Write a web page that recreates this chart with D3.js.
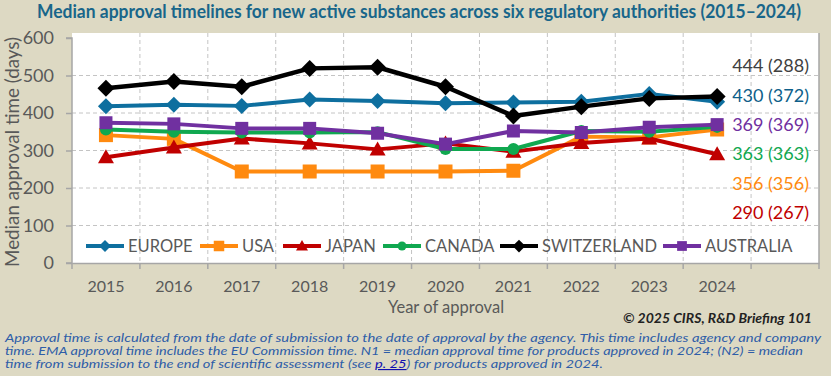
<!DOCTYPE html>
<html><head><meta charset="utf-8">
<script src="https://cdn.jsdelivr.net/npm/d3@7"></script>
<style>body{margin:0;background:#DDD9C3;} svg{display:block;font-family:Lato,"Open Sans",sans-serif}</style>
</head><body><svg id="c" width="831" height="376"></svg>
<script>
const years = ["2015","2016","2017","2018","2019","2020","2021","2022","2023","2024"];
const europe      = [418, 422, 419, 436, 432, 426, 428, 430, 451, 430];
const usa         = [341, 331, 244, 244, 244, 244, 246, 337, 335, 356];
const japan       = [282, 308, 332, 319, 303, 319, 297, 320, 332, 290];
const canada      = [356, 350, 348, 348, 349, 304, 304, 352, 350, 363];
const switzerland = [466, 484, 470, 519, 522, 470, 392, 417, 439, 444];
const australia   = [374, 371, 359, 359, 346, 317, 352, 348, 362, 369];
const seriesNames = ["EUROPE","USA","JAPAN","CANADA","SWITZERLAND","AUSTRALIA"];
const endLabels   = ["430 (372)","356 (356)","290 (267)","363 (363)","444 (288)","369 (369)"];
const yTicks = [0,100,200,300,400,500,600];

const seriesValues = [europe, usa, japan, canada, switzerland, australia];
const colors = ["#0E6F9F","#FF8A0F","#C00000","#10A850","#000000","#7030A0"];
const markers = ["diamond","square","triangle","circle","diamond","square"];
const mSize = [8, 7, 8, 6, 8.5, 6.5];
const labelColors = ["#0E5F8A","#FF8A0F","#C00000","#10A850","#404040","#7030A0"];
const labelOrder = [4,0,5,3,1,2];

const svg = d3.select("#c");
const L = 72, R = 819, T = 33, B = 263;
const x = d3.scaleBand().domain([...years, "_"]).range([L, R]);
const y = d3.scaleLinear().domain([0, 600]).range([B, 38]);
const cx = d => x(d) + x.bandwidth()/2;

// plot area
svg.append("rect").attr("x", L).attr("y", T).attr("width", R-L).attr("height", B-T).attr("fill", "#fff");
// horizontal grid
svg.append("g").selectAll("line").data(yTicks.filter(v => v>0 && v<600)).join("line")
  .attr("x1", L).attr("x2", R).attr("y1", d=>y(d)).attr("y2", d=>y(d))
  .attr("stroke", "#C4C4C4").attr("stroke-width", 1).attr("stroke-dasharray", "4,3");
// vertical grid
const bounds = x.domain().slice(1).map(d => x(d));
svg.append("g").selectAll("line").data(bounds).join("line")
  .attr("x1", d=>d).attr("x2", d=>d).attr("y1", T).attr("y2", B)
  .attr("stroke", "#C4C4C4").attr("stroke-width", 1).attr("stroke-dasharray", "4,3");
// border right
svg.append("line").attr("x1", R).attr("x2", R).attr("y1", T).attr("y2", B).attr("stroke", "#A6A6A6").attr("stroke-width", 1.5);

// y axis
const ya = svg.append("g").attr("transform", `translate(${L},0)`)
  .call(d3.axisLeft(y).tickValues(yTicks).tickSize(6).tickPadding(12));
ya.select(".domain").attr("stroke", "#A6A6A6").attr("stroke-width", 1.5).attr("d", `M-6,${y(600)}H0V${B}H-6`);
ya.selectAll(".tick line").attr("stroke", "#A6A6A6").attr("stroke-width", 1.5);
ya.selectAll("text").attr("font-size", 18).attr("fill", "#595959").attr("font-family", "Lato");
// x axis
const xa = svg.append("g").attr("transform", `translate(0,${B})`)
  .call(d3.axisBottom(x).tickSize(0).tickFormat(d => d === "_" ? "" : d).tickPadding(18));
xa.select(".domain").attr("stroke", "#A6A6A6").attr("stroke-width", 1.5);
xa.selectAll("text").attr("font-size", 16).attr("fill", "#595959").attr("font-family", "Lato");
svg.append("g").selectAll("line").data([L, ...bounds, R]).join("line")
  .attr("x1", d=>d).attr("x2", d=>d).attr("y1", B).attr("y2", B+6)
  .attr("stroke", "#A6A6A6").attr("stroke-width", 1.5);

function drawMarker(g, type, px, py, s, color) {
  if (type === "diamond") g.append("path").attr("d", `M${px},${py-s}L${px+s},${py}L${px},${py+s}L${px-s},${py}Z`).attr("fill", color);
  else if (type === "square") g.append("rect").attr("x", px-s).attr("y", py-s).attr("width", 2*s).attr("height", 2*s).attr("fill", color);
  else if (type === "triangle") g.append("path").attr("d", `M${px},${py-s}L${px+s},${py+s*0.75}L${px-s},${py+s*0.75}Z`).attr("fill", color);
  else g.append("circle").attr("cx", px).attr("cy", py).attr("r", s).attr("fill", color);
}

const line = d3.line().x((d,i) => cx(years[i])).y(d => y(d));
seriesValues.forEach((vals, k) => {
  const g = svg.append("g");
  g.append("path").datum(vals).attr("d", line).attr("fill", "none")
    .attr("stroke", colors[k]).attr("stroke-width", k===4 ? 4.5 : 4).attr("stroke-linejoin", "round");
  vals.forEach((v,i) => drawMarker(g, markers[k], cx(years[i]), y(v), mSize[k], colors[k]));
});

// end labels
labelOrder.forEach((k, j) => {
  svg.append("text").attr("x", 809).attr("y", 66 + j*29.3).attr("dy", "0.35em")
    .attr("text-anchor", "end").attr("font-size", 18).attr("fill", labelColors[k]).text(endLabels[k]);
});

// legend
const legX = [86, 200, 283, 383, 500, 663];
seriesNames.forEach((n, k) => {
  const g = svg.append("g");
  const ly = 246;
  g.append("line").attr("x1", legX[k]).attr("x2", legX[k]+38).attr("y1", ly).attr("y2", ly)
    .attr("stroke", colors[k]).attr("stroke-width", 4);
  drawMarker(g, markers[k], legX[k]+19, ly, mSize[k]*0.75, colors[k]);
  g.append("text").attr("x", legX[k]+42).attr("y", ly).attr("dy", "0.36em")
    .attr("font-size", 16.5).attr("fill", "#595959").text(n);
});

// titles
svg.append("text").attr("x", 37).attr("y", 18).attr("font-size", 18).attr("font-weight", "bold")
  .attr("fill", "#18668A").attr("textLength", 764).attr("lengthAdjust", "spacingAndGlyphs")
  .text("Median approval timelines for new active substances across six regulatory authorities (2015–2024)");
svg.append("text").attr("transform", "translate(19,152) rotate(-90)").attr("text-anchor", "middle")
  .attr("font-size", 19).attr("fill", "#595959").attr("textLength", 230).attr("lengthAdjust", "spacingAndGlyphs")
  .text("Median approval time (days)");
svg.append("text").attr("x", 446).attr("y", 313).attr("text-anchor", "middle")
  .attr("font-size", 16.5).attr("fill", "#595959").text("Year of approval");
svg.append("text").attr("x", 812).attr("y", 323).attr("text-anchor", "end")
  .attr("font-size", 14).attr("font-weight", "bold").attr("font-style", "italic").attr("fill", "#222")
  .text("© 2025 CIRS, R&D Briefing 101");

const fn = svg.append("g").attr("font-size", 11.5).attr("font-style", "italic").attr("fill", "#2E5DA8");
fn.append("text").attr("x", 5).attr("y", 342).attr("textLength", 816).attr("lengthAdjust", "spacingAndGlyphs")
  .text("Approval time is calculated from the date of submission to the date of approval by the agency. This time includes agency and company");
fn.append("text").attr("x", 5).attr("y", 355).attr("textLength", 798).attr("lengthAdjust", "spacingAndGlyphs")
  .text("time. EMA approval time includes the EU Commission time. N1 = median approval time for products approved in 2024; (N2) = median");
const t3 = fn.append("text").attr("x", 5).attr("y", 368).attr("textLength", 598).attr("lengthAdjust", "spacingAndGlyphs");
t3.append("tspan").text("time from submission to the end of scientific assessment (see ");
t3.append("tspan").attr("fill", "#1010B0").attr("text-decoration", "underline").text("p. 25");
t3.append("tspan").text(") for products approved in 2024.");
</script></body></html>
